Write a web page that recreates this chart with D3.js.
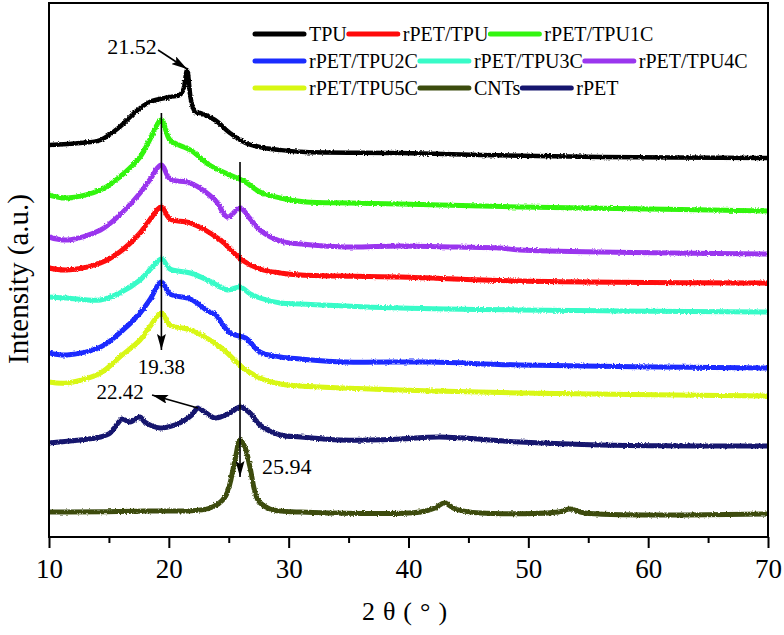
<!DOCTYPE html>
<html><head><meta charset="utf-8">
<script src="https://cdn.jsdelivr.net/npm/d3@7/dist/d3.min.js"></script>
<style>
body{margin:0;background:#fff}
text{font-family:"Liberation Serif","Times New Roman",serif;fill:#000}
</style>
</head><body>
<svg id="c" width="784" height="635"></svg>
<script>
// ---------- DATA (2θ in degrees, intensity in a.u.) ----------
const seriesNames = ["TPU","rPET/TPU","rPET/TPU1C","rPET/TPU2C","rPET/TPU3C","rPET/TPU4C","rPET/TPU5C","CNTs","rPET"];
const seriesColors = ["#000000","#ff0a0a","#33f510","#1a2cff","#38fbc8","#9a36ee","#d8f712","#3c4c0e","#16166e"];

const tpu = [[10,392],[12.6,394],[14.3,397],[15.9,410],[17.2,425],[18.4,435],[20.1,440],[20.9,442],[21.2,447],[21.52,467],[21.85,437],[22.2,425],[22.6,424],[23.85,417],[25.1,404],[26.4,394],[28.0,389],[29.3,387],[31.4,385],[39.3,384],[46.0,382],[56.0,380],[70,379]];
const rpetTpu = [[10,269],[11.5,267],[14.3,274],[15.9,285],[17.6,304],[18.4,317],[19.38,330],[20.1,318],[21.8,314],[24.3,297],[26.1,277],[27.6,268],[29.3,264],[31.0,262],[39.3,260],[49.3,256],[70,254]];
const tpu1c = [[10,342],[11.5,339],[14.3,347],[15.9,360],[17.6,380],[18.4,397],[19.38,417],[20.1,397],[21.8,387],[23.4,372],[25.1,362],[25.9,358],[26.4,355],[27.6,345],[29.3,339],[31.4,335],[35.0,334],[39.3,333],[49.3,330],[60.0,328],[70,326]];
const tpu2c = [[10,184],[11.5,182],[14.3,190],[15.9,204],[17.6,224],[18.4,237],[19.38,255],[20.1,243],[21.8,238],[23.4,225],[23.85,223],[25.1,204],[26.4,199],[27.6,185],[29.3,180],[31.0,178],[34.7,175],[41.8,175],[49.3,172],[70,169]];
const tpu3c = [[10,240],[11.5,239],[14.3,237],[15.9,244],[17.6,257],[18.4,267],[19.38,278],[20.1,268],[21.8,264],[23.4,256],[24.9,247],[25.94,250],[26.8,243],[27.6,239],[29.3,234],[31.0,233],[39.3,229],[70,225]];
const tpu4c = [[10,300],[11.5,297],[14.3,307],[15.9,322],[17.6,344],[18.4,357],[19.38,372],[20.1,358],[21.8,354],[23.85,337],[24.9,320],[25.94,329],[26.8,318],[27.6,307],[29.3,296],[31.0,293],[34.7,290],[39.3,291],[44.0,290],[47.6,289],[49.3,287],[70,283]];
const tpu5c = [[10,155],[11.5,154],[14.3,164],[15.9,180],[17.6,197],[18.4,210],[19.38,224],[20.1,212],[21.8,207],[24.3,190],[26.1,170],[27.6,159],[29.3,153],[31.0,151],[39.3,147],[49.3,144],[70,141]];
const cnts = [[10,25],[18,26],[23.44,29],[24.69,40],[25.52,77],[25.94,97],[26.35,90],[26.77,70],[27.44,37],[28.44,28],[30.95,25],[41.0,25],[42.2,29],[43.0,34],[43.9,28],[46,24],[52.5,25],[53.5,28],[54.7,24],[70,23]];
const rpet = [[10,94],[12.6,97],[14.3,100],[15.1,104],[15.76,114],[16.1,118],[16.76,115],[17.59,120],[18.0,115],[19.26,109],[20.5,112],[21.35,117],[21.93,122],[22.42,129],[23.0,125],[23.85,119],[25.1,124],[25.94,130],[26.77,124],[27.6,112],[29.3,102],[31.0,100],[34.3,97],[39.3,98],[42.6,100],[49.3,95],[56.0,92],[70,91]];

const seriesData = [tpu, rpetTpu, tpu1c, tpu2c, tpu3c, tpu4c, tpu5c, cnts, rpet];

const xTicks = [10,20,30,40,50,60,70];
const xMinorTicks = [15,25,35,45,55,65];
const legendOrder = [[0,1,2],[3,4,5],[6,7,8]];

// peak annotations
const vArrows = [{x:19.38, y0:424, y1:187}, {x:25.94, y0:375, y1:60}];
const sArrows = [{x0:19.10, y0:487, x1:21.52, y1:468}, {x0:22.42, y0:129, x1:18.6, y1:142}];
const peakLabels = [
  {text:"21.52", x:16.93, y:491, anchor:"middle", size:22},
  {text:"19.38", x:19.38, y:170, anchor:"middle", size:21},
  {text:"22.42", x:15.93, y:145, anchor:"middle", size:21},
  {text:"25.94", x:27.78, y:71, anchor:"start", size:22}
];

// ---------- CHART ----------
const svg = d3.select("#c");
const L = 49, R = 768, T = 3, B = 537;
const x = d3.scaleLinear().domain([10,70]).range([L,R]);
const y = d3.scaleLinear().domain([0,534]).range([B,T]);

const defs = svg.append("defs");
defs.append("clipPath").attr("id","clip")
  .append("rect").attr("x",L).attr("y",T).attr("width",R-L).attr("height",B-T);
defs.append("marker").attr("id","ah").attr("viewBox","0 0 16 9")
  .attr("refX",16).attr("refY",4.5).attr("markerWidth",16).attr("markerHeight",9)
  .attr("markerUnits","userSpaceOnUse").attr("orient","auto")
  .append("path").attr("d","M0,0 L16,4.5 L0,9 L3,4.5 Z").attr("fill","#000");
const f = defs.append("filter").attr("id","rough").attr("x","-5%").attr("y","-5%").attr("width","110%").attr("height","110%");
f.append("feTurbulence").attr("type","fractalNoise").attr("baseFrequency","0.6").attr("numOctaves",2).attr("seed",3).attr("result","n");
f.append("feDisplacementMap").attr("in","SourceGraphic").attr("in2","n").attr("scale",3).attr("xChannelSelector","R").attr("yChannelSelector","G");

const line = d3.line().x(d=>x(d[0])).y(d=>y(d[1])).curve(d3.curveCatmullRom.alpha(0.5));

const gLines = svg.append("g").attr("clip-path","url(#clip)").append("g").attr("filter","url(#rough)");
const drawOrder = [7,8,6,3,4,0,5,1,2];
drawOrder.forEach(i=>{
  gLines.append("path").datum(seriesData[i])
    .attr("d",line).attr("fill","none")
    .attr("stroke",seriesColors[i])
    .attr("stroke-width", i===0 ? 4.5 : 5)
    .attr("stroke-linejoin","round").attr("stroke-linecap","round");
});

// arrows
const gA = svg.append("g");
vArrows.forEach(a=>{
  gA.append("line").attr("x1",x(a.x)).attr("x2",x(a.x)).attr("y1",y(a.y0)).attr("y2",y(a.y1))
    .attr("stroke","#000").attr("stroke-width",1.6).attr("marker-end","url(#ah)");
});
sArrows.forEach(a=>{
  gA.append("line").attr("x1",x(a.x0)).attr("x2",x(a.x1)).attr("y1",y(a.y0)).attr("y2",y(a.y1))
    .attr("stroke","#000").attr("stroke-width",1.6).attr("marker-end","url(#ah)");
});
peakLabels.forEach(p=>{
  gA.append("text").attr("x",x(p.x)).attr("y",y(p.y)).attr("dy","0.35em")
    .attr("text-anchor",p.anchor).style("font-size",p.size+"px").text(p.text);
});

// frame
svg.append("rect").attr("x",L).attr("y",T).attr("width",R-L).attr("height",B-T)
  .attr("fill","none").attr("stroke","#000").attr("stroke-width",2);

// x axis
const ax = svg.append("g").attr("transform",`translate(0,${B})`)
  .call(d3.axisBottom(x).tickValues(xTicks).tickSize(11).tickPadding(11).tickFormat(d3.format("d")));
ax.select(".domain").remove();
ax.selectAll(".tick line").attr("stroke","#000").attr("stroke-width",2);
ax.selectAll(".tick text").style("font-size","27px").style("font-family",'"Liberation Serif","Times New Roman",serif');
const axm = svg.append("g").attr("transform",`translate(0,${B})`)
  .call(d3.axisBottom(x).tickValues(xMinorTicks).tickSize(6).tickFormat(""));
axm.select(".domain").remove();
axm.selectAll(".tick line").attr("stroke","#000").attr("stroke-width",2);

// axis titles
svg.append("text").attr("x",(L+R)/2).attr("y",611).attr("dy","0.35em")
  .attr("text-anchor","middle").style("font-size","26px").style("letter-spacing","8px")
  .text("2θ(°)");
svg.append("text").attr("transform","translate(18,279) rotate(-90)")
  .attr("text-anchor","middle").attr("dy","0.35em").style("font-size","29px")
  .text("Intensity (a.u.)");

// legend
const rowY = [34,61,88];
legendOrder.forEach((row,ri)=>{
  let cx = 255;
  row.forEach(i=>{
    svg.append("line").attr("x1",cx).attr("x2",cx+49).attr("y1",rowY[ri]).attr("y2",rowY[ri])
      .attr("stroke",seriesColors[i]).attr("stroke-width",5).attr("stroke-linecap","round");
    const t = svg.append("text").attr("x",cx+54).attr("y",rowY[ri]).attr("dy","0.33em")
      .style("font-size","20px").text(seriesNames[i]);
    cx = cx + 54 + t.node().getComputedTextLength() + 2;
  });
});
</script>
</body></html>
